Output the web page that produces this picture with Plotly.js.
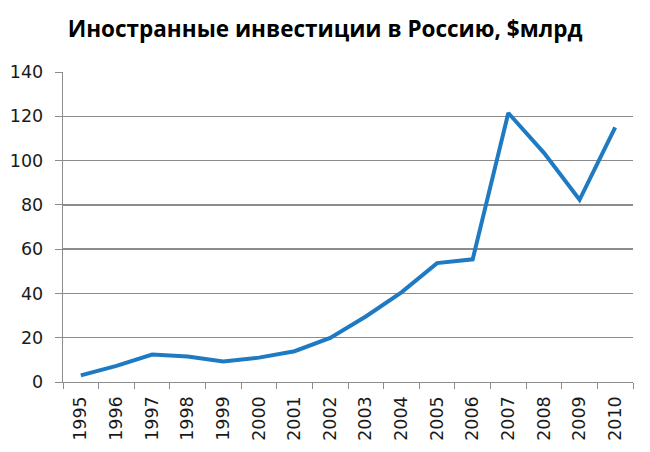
<!DOCTYPE html>
<html>
<head>
<meta charset="utf-8">
<script src="https://cdn.plot.ly/plotly-3.0.1.min.js"></script>
<style>
  html, body { margin: 0; padding: 0; background: #fff; }
  #chart { width: 650px; height: 452px; }
</style>
</head>
<body>
<div id="chart"></div>
<script>
// годы и объём иностранных инвестиций, $млрд
var years = ['1995', '1996', '1997', '1998', '1999', '2000', '2001', '2002',
             '2003', '2004', '2005', '2006', '2007', '2008', '2009', '2010'];
var investments = [3.0, 7.3, 12.4, 11.5, 9.3, 11.0, 13.9, 19.9,
                   29.6, 40.5, 53.7, 55.4, 121.5, 103.5, 82.3, 115.0];
var yTicks = [0, 20, 40, 60, 80, 100, 120, 140];

var trace = {
    x: years,
    y: investments,
    type: 'scatter',
    mode: 'lines',
    line: { color: '#1E7BC3', width: 4 },
    hoverinfo: 'x+y'
};

var layout = {
    width: 650,
    height: 452,
    margin: { l: 63, r: 17, t: 72, b: 70 },
    paper_bgcolor: '#fff',
    plot_bgcolor: '#fff',
    showlegend: false,
    font: { family: 'DejaVu Sans, Verdana, sans-serif', color: '#111' },
    title: {
        text: '<b>Иностранные инвестиции в Россию, $млрд</b>',
        x: 0.5,
        xanchor: 'center',
        y: 0.935,
        yanchor: 'middle',
        font: { size: 22.5, family: 'Open Sans, sans-serif', color: '#000' }
    },
    xaxis: {
        type: 'category',
        range: [-0.5, years.length - 0.5],
        tickangle: -90,
        tickfont: { size: 17.5, color: '#1a1a1a' },
        ticklabelstandoff: 6,
        showgrid: false,
        showline: true,
        linecolor: '#8c8c8c',
        linewidth: 1.3,
        ticks: 'outside',
        ticklen: 6,
        tickcolor: '#8c8c8c',
        tickson: 'boundaries',
        fixedrange: true
    },
    yaxis: {
        range: [0, 140],
        tickvals: yTicks,
        tickfont: { size: 17.5, color: '#1a1a1a' },
        ticklabelstandoff: 8,
        showgrid: true,
        gridcolor: '#8c8c8c',
        gridwidth: 1.3,
        showline: true,
        linecolor: '#8c8c8c',
        linewidth: 1.3,
        ticks: 'outside',
        ticklen: 7,
        tickcolor: '#8c8c8c',
        zeroline: false,
        fixedrange: true
    }
};

Plotly.newPlot('chart', [trace], layout, { displayModeBar: false, staticPlot: true });
</script>
</body>
</html>
